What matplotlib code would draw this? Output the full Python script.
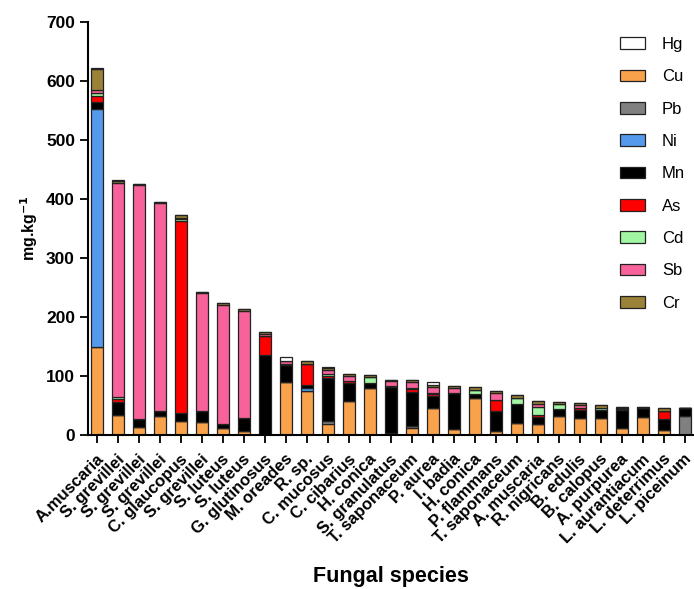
import numpy as np
import matplotlib
matplotlib.use("Agg")
import matplotlib.pyplot as plt
import matplotlib.transforms as mtransforms
from matplotlib.patches import Patch

plt.rcParams['font.family'] = ['Liberation Sans', 'DejaVu Sans']

species = ["A.muscaria", "S. grevillei", "S. grevillei", "S. grevillei", "C. glaucopus",
           "S. grevillei", "S. luteus", "S. luteus", "G. glutinosus", "M. oreades",
           "R. sp.", "C. mucosus", "C. cibarius", "H. conica", "S. granulatus",
           "T. saponaceum", "P. aurea", "I. badia", "H. conica", "P. flammans",
           "T. saponaceum", "A. muscaria", "R. nigricans", "B. edulis", "B. calopus",
           "A. purpurea", "L. aurantiacum", "L. deterrimus", "L. piceinum"]

# values in mg/kg
cu = [150, 34, 13, 32, 23, 22, 12, 7, 0, 89, 75, 19, 57, 80, 3, 11, 46, 10, 62, 7,
      20, 19, 32, 29, 28, 12, 30, 8, 0]
pb = [0, 0, 0, 0, 0, 0, 0, 0, 0, 0, 0, 4, 0, 0, 0, 4, 0, 0, 0, 0,
      0, 0, 0, 0, 0, 0, 0, 0, 32]
ni = [403, 0, 0, 0, 0, 0, 0, 0, 0, 0, 5, 0, 0, 0, 0, 0, 0, 0, 0, 0,
      0, 0, 0, 0, 0, 0, 0, 0, 0]
mn = [12, 22, 14, 9, 15, 18, 7, 22, 136, 30, 5, 73, 31, 8, 79, 58, 20, 61, 7, 34,
      32, 12, 12, 13, 14, 30, 16, 19, 14]
as_ = [10, 5, 0, 0, 325, 0, 0, 0, 32, 2, 35, 4, 3, 0, 1, 5, 4, 1, 0, 19,
       0, 3, 0, 3, 0, 2, 0, 14, 0]
cd = [5, 3, 0, 0, 3, 0, 0, 0, 0, 0, 0, 3, 0, 11, 0, 2, 2, 0, 7, 0,
      11, 13, 8, 0, 4, 0, 0, 0, 0]
sb = [5, 363, 396, 352, 2, 200, 201, 182, 3, 5, 0, 8, 9, 0, 8, 9, 10, 8, 0, 12,
      0, 5, 0, 5, 0, 2, 0, 0, 0]
cr = [35, 4, 2, 2, 5, 2, 3, 3, 3, 0, 5, 3, 3, 3, 3, 4, 2, 3, 5, 2,
      5, 5, 4, 5, 5, 2, 2, 5, 0]
hg = [2, 1, 0, 0, 0, 0, 0, 0, 0, 7, 1, 2, 0, 0, 0, 0, 5, 0, 0, 0,
      0, 0, 0, 0, 0, 0, 0, 0, 0]

colors = {
    "Hg": "#FFFFFF",
    "Cu": "#F9A24C",
    "Pb": "#808080",
    "Ni": "#5599EC",
    "Mn": "#000000",
    "As": "#FF0000",
    "Cd": "#A2F5A2",
    "Sb": "#F8629A",
    "Cr": "#9A8238",
}

# bottom to top
stack = [("Cu", cu), ("Pb", pb), ("Ni", ni), ("Mn", mn), ("As", as_),
         ("Cd", cd), ("Sb", sb), ("Cr", cr), ("Hg", hg)]
legend_order = ["Hg", "Cu", "Pb", "Ni", "Mn", "As", "Cd", "Sb", "Cr"]

fig = plt.figure(figsize=(6.94, 5.89), dpi=100)
ax = fig.add_axes([0.127, 0.2615, 0.873, 0.701])

x = np.arange(len(species))
bottom = np.zeros(len(species))
for name, vals in stack:
    vals = np.array(vals, dtype=float)
    ax.bar(x, vals, 0.6, bottom=bottom, color=colors[name],
           edgecolor="#222222", linewidth=0.9)
    bottom += vals

ax.set_xlim(-0.43, len(species) - 0.57)
ax.set_ylim(0, 700)
ax.set_yticks(range(0, 701, 100))
ax.set_xticks(x)

ax.spines["top"].set_visible(False)
ax.spines["right"].set_visible(False)
ax.spines["left"].set_linewidth(1.5)
ax.spines["bottom"].set_linewidth(1.5)
ax.tick_params(axis="both", width=1.3, length=6)
ax.tick_params(axis="x", pad=4)

ax.set_xticklabels(species, rotation=45, ha="right", va="center",
                   rotation_mode="anchor", fontsize=12, fontweight="bold")
# nudge the rotated labels so their ends sit just below-right of the ticks
shift = mtransforms.ScaledTranslation(4 / 100, -8 / 100, fig.dpi_scale_trans)
for lab in ax.get_xticklabels():
    lab.set_transform(lab.get_transform() + shift)
for lab in ax.get_yticklabels():
    lab.set_fontweight("bold")
    lab.set_fontsize(12.5)

ax.set_ylabel("mg.kg$^{\\mathbf{-1}}$", fontsize=11.5, fontweight="bold", labelpad=4)
ax.set_xlabel("Fungal species", fontsize=15.5, fontweight="bold")
ax.xaxis.set_label_coords(0.5, -0.318)

handles = [Patch(facecolor=colors[n], edgecolor="#222222", linewidth=0.9, label=n)
           for n in legend_order]
ax.legend(handles=handles, loc="upper right", bbox_to_anchor=(1.01, 1.0),
          frameon=False, fontsize=12, labelspacing=1.04, handlelength=1.5,
          handleheight=0.7, handletextpad=1.0)

fig.savefig("out.png", dpi=100)
